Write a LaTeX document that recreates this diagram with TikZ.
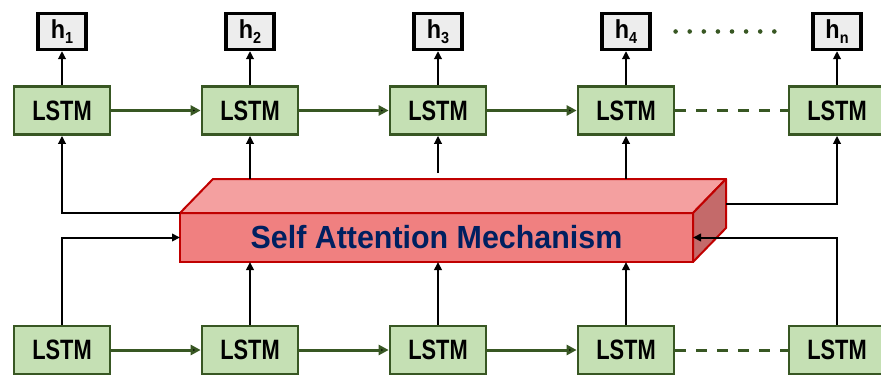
\documentclass[tikz,border=0pt]{standalone}
\usepackage{fontspec}
\setmainfont{Liberation Sans}
\usepackage{graphicx}
\usetikzlibrary{positioning, arrows.meta, calc}

\definecolor{lstmfill}{HTML}{C5E0B4}
\definecolor{lstmline}{HTML}{385723}
\definecolor{hfill}{HTML}{EDEDED}
\definecolor{attfront}{HTML}{F08080}
\definecolor{atttop}{HTML}{F4A0A0}
\definecolor{attside}{HTML}{C46A6A}
\definecolor{attline}{HTML}{C00000}
\definecolor{atttext}{HTML}{002060}

\newcommand{\squeeze}[2]{\scalebox{#1}[1]{#2}}
\newcommand{\hlabel}[1]{\squeeze{0.9}{h\raisebox{-5pt}{\fontsize{16}{16}\selectfont #1}}}

\begin{document}
\begin{tikzpicture}[x=1pt, y=-1pt, node distance=188pt, on grid,
    lstm/.style={draw=lstmline, fill=lstmfill, line width=2.7pt,
        minimum width=96pt, minimum height=48pt, inner sep=0pt,
        font=\bfseries\fontsize{28}{28}\selectfont},
    hbox/.style={draw=black, fill=hfill, line width=3.2pt,
        minimum width=48pt, minimum height=36pt, inner sep=0pt,
        font=\bfseries\fontsize{26}{26}\selectfont},
    attention/.style={draw=attline, fill=attfront, line width=2pt,
        minimum width=513pt, minimum height=49pt, outer sep=0pt,
        font=\bfseries\fontsize{32}{32}\selectfont, text=atttext},
    attface/.style={draw=attline, line width=2pt, line join=round},
    lstmflow/.style={draw=lstmline, line width=3pt, -{Triangle[length=10pt,width=10pt]}},
    lstmgap/.style={draw=lstmline, line width=3pt, dash pattern=on 11pt off 10pt},
    attfeed/.style={draw=black, line width=2pt, -{Triangle[length=8pt,width=7.5pt]}},
    hdots/.style={draw=lstmline, line width=4.6pt, line cap=round, dash pattern=on 0pt off 14.1pt}]
    \useasboundingbox (0,0) rectangle (881,375);

    % upper LSTM row and outputs
    \node[lstm] (t1) at (62,110.5) {\squeeze{0.78}{LSTM}};
    \node[lstm] (t2) [right=of t1] {\squeeze{0.78}{LSTM}};
    \node[lstm] (t3) [right=of t2] {\squeeze{0.78}{LSTM}};
    \node[lstm] (t4) [right=of t3] {\squeeze{0.78}{LSTM}};
    \node[lstm] (t5) [right=211pt of t4] {\squeeze{0.78}{LSTM}};

    \node[hbox] (h1) [above=79pt of t1] {\hlabel{1}};
    \node[hbox] (h2) [above=79pt of t2] {\hlabel{2}};
    \node[hbox] (h3) [above=79pt of t3] {\hlabel{3}};
    \node[hbox] (h4) [above=79pt of t4] {\hlabel{4}};
    \node[hbox] (h5) [above=79pt of t5] {\hlabel{n}};

    % lower LSTM row
    \node[lstm] (b1) [below=239.5pt of t1] {\squeeze{0.78}{LSTM}};
    \node[lstm] (b2) [right=of b1] {\squeeze{0.78}{LSTM}};
    \node[lstm] (b3) [right=of b2] {\squeeze{0.78}{LSTM}};
    \node[lstm] (b4) [right=of b3] {\squeeze{0.78}{LSTM}};
    \node[lstm] (b5) [right=211pt of b4] {\squeeze{0.78}{LSTM}};

    % attention block, front face first, then top and side
    \node[attention] (att) at (436.5,237.5) {\squeeze{0.95}{Self Attention Mechanism}};
    \filldraw[attface, fill=atttop] (att.north west) -- ++(33,-34) -- ++(513,0) -- (att.north east) -- cycle;
    \filldraw[attface, fill=attside] (att.north east) -- ++(33,-34) -- ++(0,49) -- (att.south east) -- cycle;
    \coordinate (back) at ($(att.north west)+(33,-34)$);
    \coordinate (side) at ($(att.east)+(33,-34)$);

    \path[lstmflow]
        (t1) edge (t2)
        (t2) edge (t3)
        (t3) edge (t4)
        (b1) edge (b2)
        (b2) edge (b3)
        (b3) edge (b4);
    \path[lstmgap]
        (t4) edge (t5)
        (b4) edge (b5);
    \draw[hdots] ([xshift=24pt]h4.east) -- ([xshift=-24pt]h5.west);

    \path[attfeed]
        (t1) edge (h1)
        (t2) edge (h2)
        (t3) edge (h3)
        (t4) edge (h4)
        (t5) edge (h5);

    % into and out of the attention block
    \draw[attfeed] (b1) |- (att.west);
    \draw[attfeed] (b5) |- (att.east);
    \draw[attfeed] (b2) -- (b2 |- att.south);
    \draw[attfeed] (b3) -- (b3 |- att.south);
    \draw[attfeed] (b4) -- (b4 |- att.south);
    \draw[attfeed] (att.north west) -| (t1);
    \draw[attfeed] (side) -| (t5);
    \draw[attfeed] (t2 |- back) -- (t2);
    \draw[attfeed, shorten <=6pt] (t3 |- back) -- (t3);
    \draw[attfeed] (t4 |- back) -- (t4);
\end{tikzpicture}
\end{document}
